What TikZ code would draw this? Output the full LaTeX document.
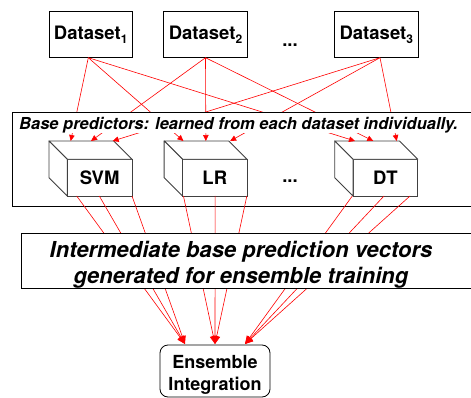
\documentclass[tikz,border=0pt]{standalone}
\usepackage{fontspec}
\setmainfont{TeX Gyre Heros}
\usetikzlibrary{calc,arrows.meta}
\newcommand{\dsub}[1]{\raisebox{-3.5pt}{\fontsize{12}{12}\selectfont #1}}
\newcommand{\cubesides}[1]{%
  \filldraw[cubeside] (#1.north west) -- ($(#1.north west)+(-18.3,-18.3)$) -- ($(#1.north east)+(-18.3,-18.3)$) -- (#1.north east) -- cycle;
  \filldraw[cubeside] (#1.north west) -- ($(#1.north west)+(-18.3,-18.3)$) -- ($(#1.south west)+(-18.3,-18.3)$) -- (#1.south west) -- cycle;}
\begin{document}
\begin{tikzpicture}[x=1pt,y=-1pt,
  box/.style={draw=black, line width=0.8pt, inner sep=0pt, outer sep=0pt},
  dset/.style={box, minimum width=83.3pt, minimum height=46pt, font=\fontsize{18.5}{20}\selectfont\bfseries},
  cubefront/.style={draw=black!75, line width=0.9pt, fill=white, minimum width=64.7pt, minimum height=36.7pt, inner sep=0pt, outer sep=0pt, font=\fontsize{18.5}{20}\selectfont\bfseries},
  cubeside/.style={draw=black!75, line width=0.9pt, fill=white, line join=round},
  dotsnode/.style={font=\fontsize{18.5}{20}\selectfont\bfseries, anchor=base, inner sep=0pt},
  redline/.style={red, line width=0.6pt},
  toparrow/.style={redline, -{Triangle[length=6pt,width=5.5pt]}},
  botarrow/.style={redline, -{Triangle[length=8pt,width=7pt]}},
]
\useasboundingbox (0,0) rectangle (471,398);
\clip (0,0) rectangle (471,398);

% datasets
\node[dset] (d1) at (90.7,34.7) {Dataset\dsub{1}};
\node[dset] (d2) at (205.5,34.7) {Dataset\dsub{2}};
\node[dset] (d3) at (376.3,34.7) {Dataset\dsub{3}};
\node[dotsnode] (dotsA) at (290,47) {...};

% cubes
\node[cubefront] (svm) at (99.65,177.65) {SVM};
\cubesides{svm}
\node[cubefront] (lr) at (214.8,177.65) {LR};
\cubesides{lr}
\node[cubefront] (dt) at (385.35,177.65) {DT};
\cubesides{dt}
\node[dotsnode] (dotsB) at (290,183) {...};

% dataset -> predictor connectors
\draw[toparrow] ([xshift=-2.4pt]d1.south) -- ($(svm.north west)+(3.4,-18.3)$);
\draw[toparrow] ([xshift=-2.4pt]d1.south) -- ($(lr.north west)+(1,-18.3)$);
\draw[toparrow] ([xshift=-2.4pt]d1.south) -- ($(dt.north west)+(2,-18.3)$);
\draw[toparrow] (d2.south) -- ($(svm.north west)+(23.7,-18.3)$);
\draw[toparrow] (d2.south) -- ($(lr.north west)+(23.4,-18.3)$);
\draw[toparrow] (d2.south) -- ($(dt.north west)+(20.3,-18.3)$);
\draw[toparrow] ([xshift=3.7pt]d3.south) -- ($(svm.north west)+(45.4,-18.3)$);
\draw[toparrow] ([xshift=3.7pt]d3.south) -- ($(lr.north west)+(47.7,-18.3)$);
\draw[toparrow] ([xshift=3.7pt]d3.south) -- ($(dt.north west)+(43.7,-18.3)$);

% caption strip of the predictor frame
\node[fill=white, anchor=base west, inner xsep=7pt, inner ysep=0pt, text height=17.5pt, text depth=4pt,
      font=\fontsize{16.5}{18}\selectfont\bfseries\itshape] (basetxt) at (12,129.5)
      {Base predictors: learned from each dataset individually.};

% predictor frame (border drawn over the strip)
\node[box, anchor=north west, minimum width=470pt, minimum height=94pt] (pred) at (12,112) {};

% ensemble
\node[box, rounded corners=8pt, anchor=north, minimum width=110pt, minimum height=52pt] (ens) at (215,345) {};
\node[align=center, font=\fontsize{18}{22}\selectfont\bfseries, inner sep=0pt] (enstext) at (215,374.5) {Ensemble\\Integration};

% predictor -> ensemble connectors
\draw[botarrow] ($(svm.south west)+(9.4,0)$) -- ($(ens.north)+(-30,-1)$);
\draw[botarrow] ($(svm.south west)+(32,0)$) -- ($(ens.north)+(-30,-1)$);
\draw[botarrow] ($(svm.south west)+(64.7,0)$) -- ($(ens.north)+(-30,-1)$);
\draw[botarrow] ($(lr.south west)+(1,0)$) -- ($(ens.north)+(0,-1)$);
\draw[botarrow] ($(lr.south west)+(32.7,0)$) -- ($(ens.north)+(0,-1)$);
\draw[botarrow] ($(lr.south west)+(64.4,0)$) -- ($(ens.north)+(0,-1)$);
\draw[botarrow] ($(dt.south west)+(-0.7,0)$) -- ($(ens.north)+(30,-1)$);
\draw[botarrow] ($(dt.south west)+(31,0)$) -- ($(ens.north)+(30,-1)$);
\draw[botarrow] ($(dt.south west)+(57,0)$) -- ($(ens.north)+(30,-1)$);

% intermediate vectors box
\node[box, fill=white, anchor=north west, minimum width=460pt, minimum height=55pt] (inter) at (21,233) {};
\node[align=center, font=\fontsize{22}{26}\selectfont\bfseries\itshape, inner sep=0pt] (intertext) at (241,264.4)
  {Intermediate base prediction vectors\\generated for ensemble training};
\end{tikzpicture}
\end{document}
